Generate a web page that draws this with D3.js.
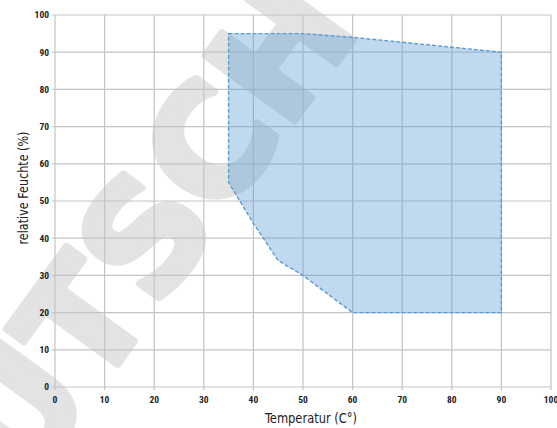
<!DOCTYPE html>
<html>
<head>
<meta charset="utf-8">
<script src="https://cdn.jsdelivr.net/npm/d3@7"></script>
<style>
  body { margin: 0; background: #fff; }
  .tick-label { font-family: "Liberation Sans Narrow", "Roboto Condensed", "DejaVu Sans Condensed", sans-serif; font-weight: bold; font-size: 9.5px; fill: #222; }
  .axis-title { font-family: "Liberation Sans Narrow", "DejaVu Sans Condensed", sans-serif; font-size: 14px; fill: #222; }
</style>
</head>
<body>
<div id="vis"></div>
<script>
const FRAME_WIDTH = 557;
const FRAME_HEIGHT = 428;
const MARGINS = {left: 55, right: 6, top: 15, bottom: 41};

// operating range polygon, clockwise from top left
const temps = [35, 50, 60, 90, 90, 60, 50, 45, 40, 35];
const humid = [95, 95, 94, 90, 20, 20, 30, 34, 44, 55];

const xTicks = [0, 10, 20, 30, 40, 50, 60, 70, 80, 90, 100];
const yTicks = [0, 10, 20, 30, 40, 50, 60, 70, 80, 90, 100];

const X_TITLE = 'Temperatur (C°)';
const Y_TITLE = 'relative Feuchte (%)';
const WATERMARK = 'DEUTSCH';

const FRAME = d3.select('#vis')
  .append('svg')
    .attr('width', FRAME_WIDTH)
    .attr('height', FRAME_HEIGHT);

const X_SCALE = d3.scaleLinear()
  .domain([0, 100])
  .range([MARGINS.left, FRAME_WIDTH - MARGINS.right]);

const Y_SCALE = d3.scaleLinear()
  .domain([0, 100])
  .range([FRAME_HEIGHT - MARGINS.bottom, MARGINS.top]);

// watermark sits under everything
FRAME.append('text')
  .attr('transform', 'translate(82,324) rotate(-54)')
  .attr('text-anchor', 'middle')
  .attr('dominant-baseline', 'central')
  .attr('font-family', 'DejaVu Sans')
  .attr('font-weight', 'bold')
  .attr('font-size', 152)
  .attr('fill', '#e3e3e3')
  .attr('stroke', '#e3e3e3')
  .attr('stroke-width', 7)
  .attr('stroke-linejoin', 'round')
  .text(WATERMARK);

// grid
FRAME.append('g')
  .selectAll('line')
  .data(xTicks)
  .enter()
  .append('line')
    .attr('x1', d => X_SCALE(d))
    .attr('x2', d => X_SCALE(d))
    .attr('y1', Y_SCALE(100))
    .attr('y2', Y_SCALE(0) + 3)
    .attr('stroke', '#c4c4c4')
    .attr('stroke-width', 1.2);

FRAME.append('g')
  .selectAll('line')
  .data(yTicks)
  .enter()
  .append('line')
    .attr('x1', X_SCALE(0) - 3)
    .attr('x2', X_SCALE(100))
    .attr('y1', d => Y_SCALE(d))
    .attr('y2', d => Y_SCALE(d))
    .attr('stroke', '#c4c4c4')
    .attr('stroke-width', 1.2);

// area
const pts = temps.map((t, i) => [X_SCALE(t), Y_SCALE(humid[i])]);
FRAME.append('path')
  .attr('d', d3.line().curve(d3.curveLinearClosed)(pts))
  .attr('fill', '#5b9bd5')
  .attr('fill-opacity', 0.38)
  .attr('stroke', '#5b9bd5')
  .attr('stroke-width', 1.4)
  .attr('stroke-dasharray', '4,2');

// tick labels
FRAME.append('g')
  .selectAll('text')
  .data(yTicks)
  .enter()
  .append('text')
    .attr('class', 'tick-label')
    .attr('x', X_SCALE(0) - 6)
    .attr('y', d => Y_SCALE(d))
    .attr('dy', '0.35em')
    .attr('text-anchor', 'end')
    .text(d => d);

FRAME.append('g')
  .selectAll('text')
  .data(xTicks)
  .enter()
  .append('text')
    .attr('class', 'tick-label')
    .attr('x', d => X_SCALE(d))
    .attr('y', Y_SCALE(0) + 13)
    .attr('dy', '0.35em')
    .attr('text-anchor', 'middle')
    .text(d => d);

// axis titles
FRAME.append('text')
  .attr('class', 'axis-title')
  .attr('x', 311)
  .attr('y', 423)
  .attr('text-anchor', 'middle')
  .attr('textLength', 92)
  .attr('lengthAdjust', 'spacingAndGlyphs')
  .text(X_TITLE);

FRAME.append('text')
  .attr('class', 'axis-title')
  .attr('transform', 'translate(28,188) rotate(-90)')
  .attr('text-anchor', 'middle')
  .attr('textLength', 113)
  .attr('lengthAdjust', 'spacingAndGlyphs')
  .text(Y_TITLE);
</script>
</body>
</html>
